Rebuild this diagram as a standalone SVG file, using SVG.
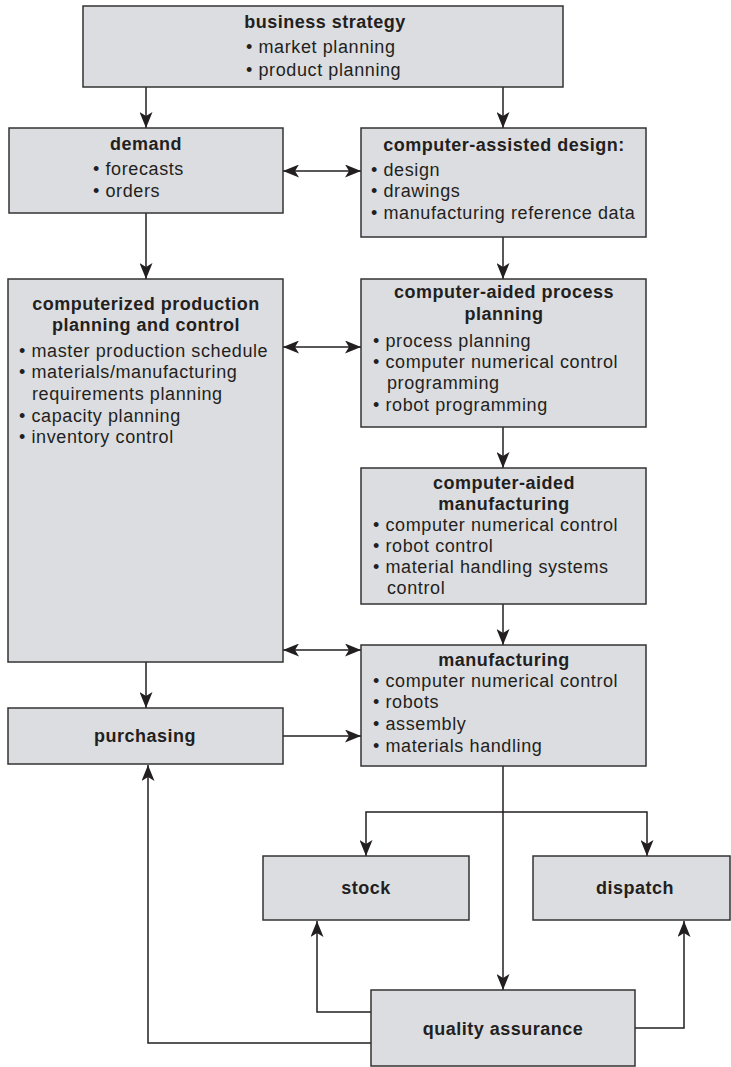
<svg xmlns="http://www.w3.org/2000/svg" width="731" height="1067" viewBox="0 0 731 1067">
<style>
  .box { fill: #dcdde0; stroke: #333333; stroke-width: 1.5; }
  .t { font-family: "Liberation Sans", Arial, sans-serif; font-size: 18px; letter-spacing: 0.6px; fill: #231f20; }
  .b { font-weight: bold; text-anchor: middle; letter-spacing: 0.5px; }
  .con { fill: none; stroke: #231f20; stroke-width: 1.5; }
</style>
<defs>
  <marker id="ah" viewBox="0 0 16 13" refX="16" refY="6.5" markerWidth="16" markerHeight="13" orient="auto-start-reverse" markerUnits="userSpaceOnUse">
    <path d="M0,0 L16,6.5 L0,13 L4,6.5 z" fill="#231f20"/>
  </marker>
</defs>
<rect width="731" height="1067" fill="#ffffff"/>

<g id="connectors">
  <path class="con" d="M146,87 V128" marker-end="url(#ah)"/>
  <path class="con" d="M503,87 V128" marker-end="url(#ah)"/>
  <path class="con" d="M283,171 H361" marker-start="url(#ah)" marker-end="url(#ah)"/>
  <path class="con" d="M146,213 V279" marker-end="url(#ah)"/>
  <path class="con" d="M503,237 V279" marker-end="url(#ah)"/>
  <path class="con" d="M283,347 H361" marker-start="url(#ah)" marker-end="url(#ah)"/>
  <path class="con" d="M503,427 V468" marker-end="url(#ah)"/>
  <path class="con" d="M503,604 V645" marker-end="url(#ah)"/>
  <path class="con" d="M283,650 H361" marker-start="url(#ah)" marker-end="url(#ah)"/>
  <path class="con" d="M146,662 V708" marker-end="url(#ah)"/>
  <path class="con" d="M283,736 H361" marker-end="url(#ah)"/>
  <path class="con" d="M503,766 V990" marker-end="url(#ah)"/>
  <path class="con" d="M503,812 H366 V856" marker-end="url(#ah)"/>
  <path class="con" d="M503,812 H647 V856" marker-end="url(#ah)"/>
  <path class="con" d="M371,1043 H148 V765" marker-end="url(#ah)"/>
  <path class="con" d="M371,1012 H317 V921" marker-end="url(#ah)"/>
  <path class="con" d="M635,1028 H684 V921" marker-end="url(#ah)"/>
</g>

<g id="business-strategy">
  <rect class="box" x="83" y="6" width="480" height="81"/>
  <text class="t b" x="325" y="28">business strategy</text>
  <text class="t" x="246" y="53">• market planning</text>
  <text class="t" x="246" y="76">• product planning</text>
</g>

<g id="demand">
  <rect class="box" x="9" y="128" width="274" height="85"/>
  <text class="t b" x="146" y="150">demand</text>
  <text class="t" x="93" y="175">• forecasts</text>
  <text class="t" x="93" y="197">• orders</text>
</g>

<g id="cad">
  <rect class="box" x="361" y="128" width="285" height="109"/>
  <text class="t b" x="504" y="151">computer-assisted design:</text>
  <text class="t" x="371" y="176">• design</text>
  <text class="t" x="371" y="197">• drawings</text>
  <text class="t" x="371" y="219">• manufacturing reference data</text>
</g>

<g id="cppc">
  <rect class="box" x="8" y="279" width="275" height="383"/>
  <text class="t b" x="146" y="310">computerized production</text>
  <text class="t b" x="146" y="331">planning and control</text>
  <text class="t" x="19" y="357">• master production schedule</text>
  <text class="t" x="19" y="378">• materials/manufacturing</text>
  <text class="t" x="32" y="400">requirements planning</text>
  <text class="t" x="19" y="422">• capacity planning</text>
  <text class="t" x="19" y="443">• inventory control</text>
</g>

<g id="capp">
  <rect class="box" x="361" y="279" width="285" height="148"/>
  <text class="t b" x="504" y="298">computer-aided process</text>
  <text class="t b" x="504" y="320">planning</text>
  <text class="t" x="373" y="347">• process planning</text>
  <text class="t" x="373" y="368">• computer numerical control</text>
  <text class="t" x="387" y="389">programming</text>
  <text class="t" x="373" y="411">• robot programming</text>
</g>

<g id="cam">
  <rect class="box" x="361" y="468" width="285" height="136"/>
  <text class="t b" x="504" y="489">computer-aided</text>
  <text class="t b" x="504" y="510">manufacturing</text>
  <text class="t" x="373" y="531">• computer numerical control</text>
  <text class="t" x="373" y="552">• robot control</text>
  <text class="t" x="373" y="573">• material handling systems</text>
  <text class="t" x="387" y="594">control</text>
</g>

<g id="manufacturing">
  <rect class="box" x="361" y="645" width="285" height="121"/>
  <text class="t b" x="504" y="666">manufacturing</text>
  <text class="t" x="373" y="687">• computer numerical control</text>
  <text class="t" x="373" y="708">• robots</text>
  <text class="t" x="373" y="730">• assembly</text>
  <text class="t" x="373" y="752">• materials handling</text>
</g>

<g id="purchasing">
  <rect class="box" x="8" y="708" width="275" height="56"/>
  <text class="t b" x="145" y="742">purchasing</text>
</g>

<g id="stock">
  <rect class="box" x="263" y="856" width="206" height="64"/>
  <text class="t b" x="366" y="894">stock</text>
</g>

<g id="dispatch">
  <rect class="box" x="533" y="856" width="197" height="64"/>
  <text class="t b" x="635" y="894">dispatch</text>
</g>

<g id="quality-assurance">
  <rect class="box" x="371" y="990" width="264" height="76"/>
  <text class="t b" x="503" y="1035">quality assurance</text>
</g>
</svg>
